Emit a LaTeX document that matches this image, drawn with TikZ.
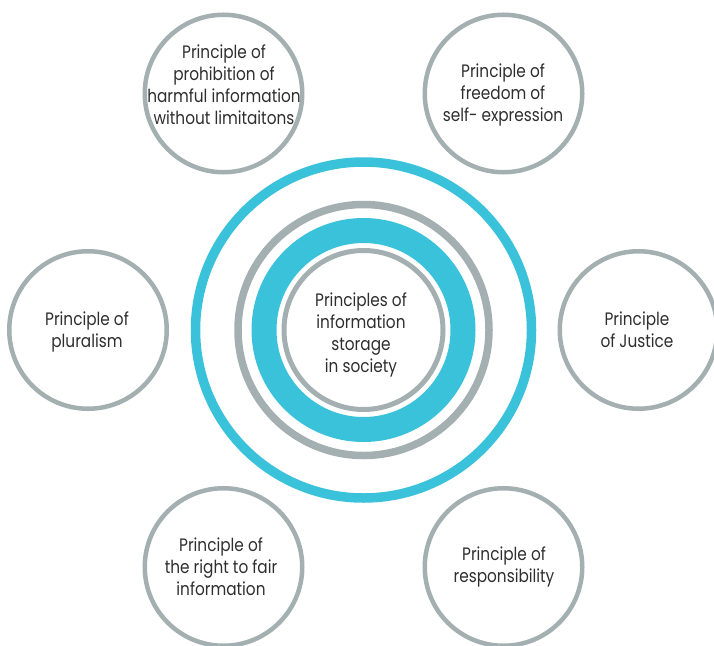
\documentclass[tikz,border=0pt]{standalone}
\usepackage{fontspec}
\setmainfont{Poppins}[FakeStretch=0.85]
\definecolor{ringcyan}{HTML}{3AC2DB}
\definecolor{ringgray}{HTML}{A3AFB0}
\definecolor{txt}{HTML}{2E2E2E}
\begin{document}
\begin{tikzpicture}[x=1pt,y=-1pt,
  sat/.style={circle,draw=ringgray,line width=4.5pt,minimum size=157.5pt,inner sep=0pt},
  lbl/.style={align=center,font=\fontsize{18}{22}\selectfont,text=txt,inner sep=0pt}]
\useasboundingbox (0,0) rectangle (714,645);
\clip (0,0) rectangle (714,645);

% concentric rings of the hub
\coordinate (c) at (363.5,330);
\draw[ringcyan,line width=9.5pt] (c) circle[radius=168pt];
\draw[ringgray,line width=7.5pt] (c) circle[radius=125.5pt];
\draw[ringcyan,line width=25pt]  (c) circle[radius=99.5pt];
\draw[ringgray,line width=5pt]   (c) circle[radius=79.5pt];
\node[lbl] (hub) at (361,335) {Principles of\\information\\storage\\in society};

% surrounding principles
\node[sat] (tl) at (223.5,93.5) {};
\node[sat] (tr) at (503.5,93.5) {};
\node[sat] (ml) at (88,330) {};
\node[sat] (mr) at (638.5,330) {};
\node[sat] (bl) at (223.5,567) {};
\node[sat] (br) at (503.5,567) {};

\node[lbl] (tltext) at (224,84.5) {Principle of\\prohibition of\\harmful information\\without limitaitons};
\node[lbl] (trtext) at (503,95) {Principle of\\freedom of\\self- expression};
\node[lbl] (mltext) at (87,331.5) {Principle of\\pluralism};
\node[lbl] (mrtext) at (637,329.5) {Principle\\of Justice};
\node[lbl] (bltext) at (221,566.5) {Principle of\\the right to fair\\information};
\node[lbl] (brtext) at (504,567) {Principle of\\responsibility};
\end{tikzpicture}
\end{document}
